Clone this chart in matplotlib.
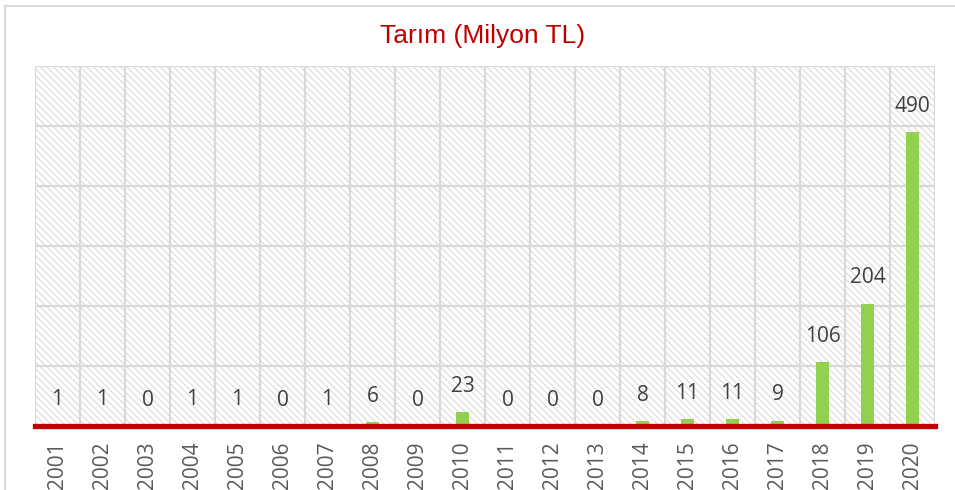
import numpy as np
import matplotlib
matplotlib.use('Agg')
import matplotlib.pyplot as plt
from matplotlib.lines import Line2D
from matplotlib.patches import Rectangle

# veri
years = [str(y) for y in range(2001, 2021)]
values = [1, 1, 0, 1, 1, 0, 1, 6, 0, 23, 0, 0, 0, 8, 11, 11, 9, 106, 204, 490]

GRID = '#D9D9D9'
BAR = '#92D050'
RED = '#C00000'

plt.rcParams['hatch.color'] = GRID
plt.rcParams['hatch.linewidth'] = 0.8

fig = plt.figure(figsize=(9.55, 4.9), dpi=100)
ax = fig.add_axes([35 / 955, 64 / 490, 900 / 955, 360 / 490])

# tarama arka plan
ax.patch.set_visible(False)
bg = Rectangle((0, 0), 1, 1, transform=ax.transAxes, facecolor='white',
               edgecolor=GRID, hatch='\\\\\\\\\\', linewidth=0, zorder=0)
ax.add_patch(bg)

x = np.arange(len(years))
ax.bar(x, values, width=0.27, color=BAR, zorder=3)

ax.set_xlim(-0.5, len(years) - 0.5)
ax.set_ylim(0, 600)

ax.set_yticks(np.arange(0, 700, 100))
ax.set_yticklabels([])
ax.set_xticks(x)
ax.set_xticklabels(years, rotation=90, fontsize=15, color='#595959', family='Open Sans')
ax.set_xticks(np.arange(-0.5, len(years), 1), minor=True)
ax.tick_params(axis='both', which='both', length=0)
ax.tick_params(axis='x', pad=11)

ax.grid(True, axis='y', which='major', color=GRID, linewidth=1.6, zorder=1)
ax.grid(True, axis='x', which='minor', color=GRID, linewidth=1.6, zorder=1)
ax.set_axisbelow(True)
for s in ax.spines.values():
    s.set_visible(False)

ax.axhline(0, color=RED, linewidth=3.8, zorder=4, clip_on=False)

for xi, v in zip(x, values):
    ax.annotate(str(v), (xi, v), xytext=(0, 18.5), textcoords='offset points',
                ha='center', va='center', fontsize=15, color='#404040',
                family='Open Sans', zorder=5)

fig.text(483 / 955, 1 - 43 / 490, 'Tarım (Milyon TL)', ha='center', va='baseline',
         fontsize=19, color=RED, family='Liberation Sans')

# dis cerceve
fig.add_artist(Line2D([5 / 955, 5 / 955], [0, 1 - 6 / 490], transform=fig.transFigure,
                      color=GRID, linewidth=1.5))
fig.add_artist(Line2D([5 / 955, 1], [1 - 6 / 490, 1 - 6 / 490], transform=fig.transFigure,
                      color=GRID, linewidth=1.5))

fig.savefig('out.png', dpi=100)
